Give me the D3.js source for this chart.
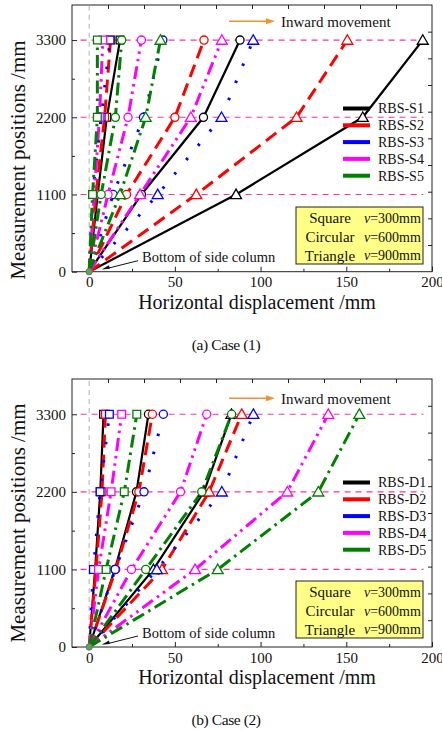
<!DOCTYPE html>
<html>
<head>
<meta charset="utf-8">
<script src="https://cdn.jsdelivr.net/npm/d3@7"></script>
<style>
  body { margin: 0; background: #fff; }
  svg text { font-family: "Liberation Serif", "Times New Roman", serif; }
</style>
</head>
<body>
<svg id="chart" width="442" height="731" font-family="Liberation Serif"></svg>
<script>
// measurement heights (mm), same for every curve
const heights = [0, 1100, 2200, 3300];

// case (1): values at 1100, 2200, 3300 mm for v = 300 / 600 / 900 mm
const case1Series = ["RBS-S1", "RBS-S2", "RBS-S3", "RBS-S4", "RBS-S5"];
const case1Square = [[5, 10.3, 18], [4, 9, 12.5], [2, 7, 12.2], [3, 6, 8], [2, 4.8, 4.8]];
const case1Circle = [[30.5, 66.7, 88], [21.8, 50, 67], [14, 31.7, 43], [11, 22.7, 30.5], [7, 15.3, 19]];
const case1Triangle = [[85.7, 159.6, 194.6], [62.5, 121, 150.6], [40, 77.2, 95.7], [29.7, 59.3, 77.4], [18, 33, 41.6]];

// case (2)
const case2Series = ["RBS-D1", "RBS-D2", "RBS-D3", "RBS-D4", "RBS-D5"];
const case2Square = [[3.5, 6.5, 8.4], [4, 7.5, 9.5], [2.5, 6.4, 11.8], [5.5, 12.8, 19], [9.9, 20.5, 27.8]];
const case2Circle = [[15, 27.6, 34.6], [15.5, 29, 36.9], [15.2, 32, 43.3], [24.7, 53.3, 68.6], [33, 65.7, 83.1]];
const case2Triangle = [[37.5, 67, 83], [42.5, 70, 89], [39.5, 77.4, 95.8], [61.8, 115.6, 139.5], [75, 133.7, 157.6]];

const xTicks = [0, 50, 100, 150, 200];
const yTicks = [0, 1100, 2200, 3300];
const boxRows = [["Square", "300mm"], ["Circular", "600mm"], ["Triangle", "900mm"]];

const colors = ["#000000", "#ff0000", "#0000ff", "#ff00ff", "#008000"],
    dashes = [null, "13,7", "2.5,16", "13,5,2.5,5,2.5,5", "13,5,2.5,5"],
    shapes = [d3.symbolSquare, d3.symbolCircle, d3.symbolTriangle],
    shapeSize = [60, 52, 52],
    serif = "Liberation Serif";

const svg = d3.select("#chart");

function label(sel, size) {
    return sel.attr("font-family", serif).attr("font-size", size).attr("fill", "#111");
}

function panel(opt) {
    var g = svg.append("g"),
        x = d3.scaleLinear().domain([-10, 200]).range([72, 432]),
        y = d3.scaleLinear().domain([0, 3800]).range([opt.bottom, opt.top]),
        groups = [opt.square, opt.circle, opt.triangle];

    g.append("rect")
        .attr("x", x(-10)).attr("y", opt.top)
        .attr("width", x(200) - x(-10)).attr("height", opt.bottom - opt.top)
        .attr("fill", "#fff").attr("stroke", "#222").attr("stroke-width", 1);

    // reference lines
    g.append("line")
        .attr("x1", x(0)).attr("x2", x(0)).attr("y1", y(0)).attr("y2", y(3800))
        .attr("stroke", "#b0b0b0").attr("stroke-width", 1).attr("stroke-dasharray", "5,4");
    g.selectAll(".hline").data(yTicks.slice(1)).enter().append("line")
        .attr("x1", x(-5)).attr("x2", x(195))
        .attr("y1", y).attr("y2", y)
        .attr("stroke", "#ff3399").attr("stroke-width", 1.1).attr("stroke-dasharray", "6,5");

    // axes, ticks inward
    var ax = g.append("g").attr("transform", "translate(0," + opt.bottom + ")")
        .call(d3.axisBottom(x).tickValues(xTicks).tickSize(-5).tickPadding(5).tickFormat(d3.format("d")));
    g.append("g").attr("transform", "translate(0," + opt.bottom + ")")
        .call(d3.axisBottom(x).tickValues(d3.range(25, 200, 50)).tickSize(-3).tickFormat(""));
    var ay = g.append("g").attr("transform", "translate(" + x(-10) + ",0)")
        .call(d3.axisLeft(y).tickValues(yTicks).tickSize(-5).tickPadding(6).tickFormat(d3.format("d")));
    g.append("g").attr("transform", "translate(" + x(-10) + ",0)")
        .call(d3.axisLeft(y).tickValues(d3.range(550, 3800, 1100)).tickSize(-3).tickFormat(""));
    g.append("g").attr("transform", "translate(" + x(200) + ",0)")
        .call(d3.axisRight(y).tickValues(d3.range(380, 3800, 380)).tickSize(-4).tickFormat(""));
    g.append("g").attr("transform", "translate(0," + opt.top + ")")
        .call(d3.axisTop(x).tickValues(d3.range(11, 200, 21)).tickSize(-4).tickFormat(""));
    g.selectAll(".domain").remove();
    g.selectAll(".tick line").attr("stroke", "#222");
    label(ax.selectAll("text"), 15);
    label(ay.selectAll("text"), 15);

    // curves
    var line = d3.line().x(d => x(d[0])).y(d => y(d[1]));
    opt.series.forEach(function(name, i) {
        groups.forEach(function(vals) {
            var pts = heights.map((h, k) => [k ? vals[i][k - 1] : 0, h]);
            g.append("path").datum(pts)
                .attr("d", line)
                .attr("fill", "none")
                .attr("stroke", colors[i])
                .attr("stroke-width", i ? 3 : 2.2)
                .attr("stroke-dasharray", dashes[i]);
        });
    });
    opt.series.forEach(function(name, i) {
        groups.forEach(function(vals, s) {
            g.selectAll(null).data(vals[i]).enter().append("path")
                .attr("transform", (v, k) => "translate(" + x(v) + "," + (y(heights[k + 1]) + (s == 2 ? 1 : 0)) + ")")
                .attr("d", d3.symbol(shapes[s], shapeSize[s]))
                .attr("fill", "#fff")
                .attr("stroke", colors[i])
                .attr("stroke-width", 1.3);
        });
    });
    g.append("circle").attr("cx", x(0)).attr("cy", y(0)).attr("r", 3.2)
        .attr("fill", "#22cc22").attr("stroke", "#cc33cc").attr("stroke-width", 1);

    // legend
    var lg = g.selectAll(".leg").data(opt.series).enter().append("g")
        .attr("transform", (d, i) => "translate(343," + (opt.top + 103.5 + i * 16.8) + ")");
    lg.append("line").attr("x1", 0).attr("x2", 27)
        .attr("stroke", (d, i) => colors[i]).attr("stroke-width", 4);
    label(lg.append("text"), 14).attr("x", 35).attr("dy", "0.35em").text(d => d);

    // yellow box
    var by = opt.top + 202;
    g.append("rect").attr("x", 296).attr("y", by).attr("width", 127).attr("height", 57)
        .attr("fill", "#ffff88").attr("stroke", "#222").attr("stroke-width", 1);
    var br = g.selectAll(".brow").data(boxRows).enter().append("g")
        .attr("transform", (d, i) => "translate(0," + (by + 11 + i * 18.7) + ")");
    label(br.append("text"), 15).attr("x", 330).attr("dy", "0.35em").attr("text-anchor", "middle")
        .text(d => d[0]);
    var vt = label(br.append("text"), 14).attr("x", 364).attr("dy", "0.35em");
    vt.append("tspan").attr("font-style", "italic").text("v");
    vt.append("tspan").text(d => "=" + d[1]);

    // annotations
    var ay0 = opt.top + opt.arrowY;
    g.append("line").attr("x1", 229).attr("x2", 268).attr("y1", ay0).attr("y2", ay0)
        .attr("stroke", "#f0922e").attr("stroke-width", 1.5);
    g.append("path").attr("d", "M266," + (ay0 - 3) + "L275," + ay0 + "L266," + (ay0 + 3) + "Z")
        .attr("fill", "#f0922e");
    label(g.append("text"), 15).attr("x", 281).attr("y", ay0).attr("dy", "0.35em")
        .text("Inward movement");

    var ty = opt.bottom - 14.5;
    label(g.append("text"), 14.5).attr("x", 142).attr("y", ty).attr("dy", "0.35em")
        .text("Bottom of side column");
    g.append("line").attr("x1", 138).attr("y1", ty + 3.5).attr("x2", 108).attr("y2", opt.bottom - 3.5)
        .attr("stroke", "#111").attr("stroke-width", 1);
    g.append("path").attr("d", "M101.5," + (opt.bottom - 2.3) + "l7.5,-4.2l0.8,3.6Z").attr("fill", "#111");

    // titles
    label(g.append("text"), 21).attr("transform", "translate(18," + opt.ylabY + ") rotate(-90)")
        .attr("text-anchor", "middle").attr("dy", "0.35em")
        .text("Measurement positions /mm");
    label(g.append("text"), 20).attr("x", 257).attr("y", opt.bottom + 30).attr("dy", "0.35em")
        .attr("text-anchor", "middle")
        .text("Horizontal displacement /mm");
    label(g.append("text"), 15.5).attr("x", 226).attr("y", opt.bottom + 73).attr("dy", "0.35em")
        .attr("text-anchor", "middle").attr("letter-spacing", -0.4).text(opt.caption);
}

panel({top: 5, bottom: 271.7, arrowY: 16.3, ylabY: 160, caption: "(a) Case (1)",
    series: case1Series, square: case1Square, circle: case1Circle, triangle: case1Triangle});
panel({top: 379, bottom: 647, arrowY: 19.3, ylabY: 523, caption: "(b) Case (2)",
    series: case2Series, square: case2Square, circle: case2Circle, triangle: case2Triangle});
</script>
</body>
</html>
